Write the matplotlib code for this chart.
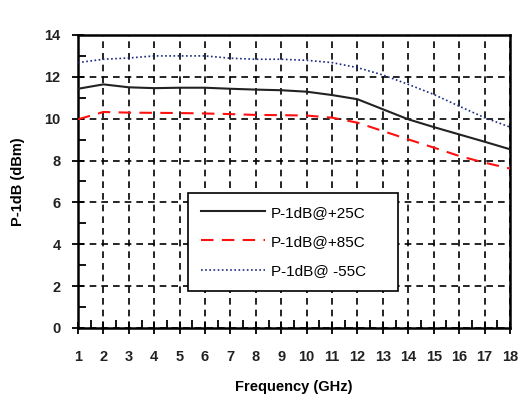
import numpy as np
import matplotlib
matplotlib.use('Agg')
import matplotlib.pyplot as plt
from matplotlib.ticker import MultipleLocator

# Data
freq = [1, 2, 3, 4, 5, 6, 7, 8, 9, 10, 11, 12, 13, 14, 15, 16, 17, 18]
p1db_25c = [11.43, 11.64, 11.5, 11.46, 11.48, 11.48, 11.43, 11.39, 11.36, 11.29,
            11.13, 10.93, 10.45, 9.97, 9.6, 9.25, 8.9, 8.54]
p1db_85c = [9.97, 10.32, 10.29, 10.28, 10.27, 10.25, 10.22, 10.18, 10.17, 10.15,
            10.05, 9.81, 9.41, 9.01, 8.62, 8.22, 7.9, 7.62]
p1db_m55c = [12.68, 12.84, 12.9, 13.0, 13.0, 13.0, 12.89, 12.84, 12.84, 12.79,
             12.68, 12.44, 12.09, 11.64, 11.16, 10.6, 10.05, 9.6]
labels = ['P-1dB@+25C', 'P-1dB@+85C', 'P-1dB@ -55C']

plt.rcParams['font.family'] = ['Liberation Sans', 'DejaVu Sans']

fig = plt.figure(figsize=(5.29, 3.98), dpi=100)
ax = fig.add_axes([0.1474, 0.1759, 0.8166, 0.7362])

ax.plot(freq, p1db_25c, color='#222222', lw=1.5, label=labels[0], zorder=5)
ax.plot(freq, p1db_85c, color='#ff1010', lw=1.5, ls=(0, (6, 4)), label=labels[1], zorder=5)
ax.plot(freq, p1db_m55c, color='#1a2a80', lw=1.2, ls=(0, (1, 1.5)), label=labels[2], zorder=5)

ax.set_xlim(1, 18)
ax.set_ylim(0, 14)
ax.xaxis.set_major_locator(MultipleLocator(1))
ax.xaxis.set_minor_locator(MultipleLocator(0.5))
ax.yaxis.set_major_locator(MultipleLocator(2))
ax.yaxis.set_minor_locator(MultipleLocator(1))

ax.grid(True, which='major', color='black', ls=(0, (4, 3)), lw=1.2)
for s in ax.spines.values():
    s.set_linewidth(1.8)

ax.tick_params(axis='x', which='major', direction='inout', length=9, width=1.3,
               labelsize=10.5, pad=11)
ax.tick_params(axis='y', which='major', direction='inout', length=9, width=1.3,
               labelsize=10.5, pad=8)
ax.tick_params(which='minor', direction='in', length=6, width=1.3,
               bottom=True, left=True, color='black')
ax.set_axisbelow(False)
for lab in ax.get_xticklabels() + ax.get_yticklabels():
    lab.set_fontweight('bold')
    lab.set_color('#222222')

ax.set_xlabel('Frequency (GHz)', fontsize=10.5, fontweight='bold', labelpad=12)
ax.set_ylabel('P-1dB (dBm)', fontsize=10.5, fontweight='bold', labelpad=14)

leg = ax.legend(loc='lower left', bbox_to_anchor=(0.2546, 0.126, 0.486, 0.345),
                mode='expand', borderaxespad=0, fontsize=11, handlelength=4.2,
                handletextpad=0.4, labelspacing=1.0, borderpad=0.85,
                fancybox=False, framealpha=1, edgecolor='black')
leg.get_frame().set_linewidth(1.2)
leg.set_zorder(10)

fig.savefig('out.png', dpi=100)
